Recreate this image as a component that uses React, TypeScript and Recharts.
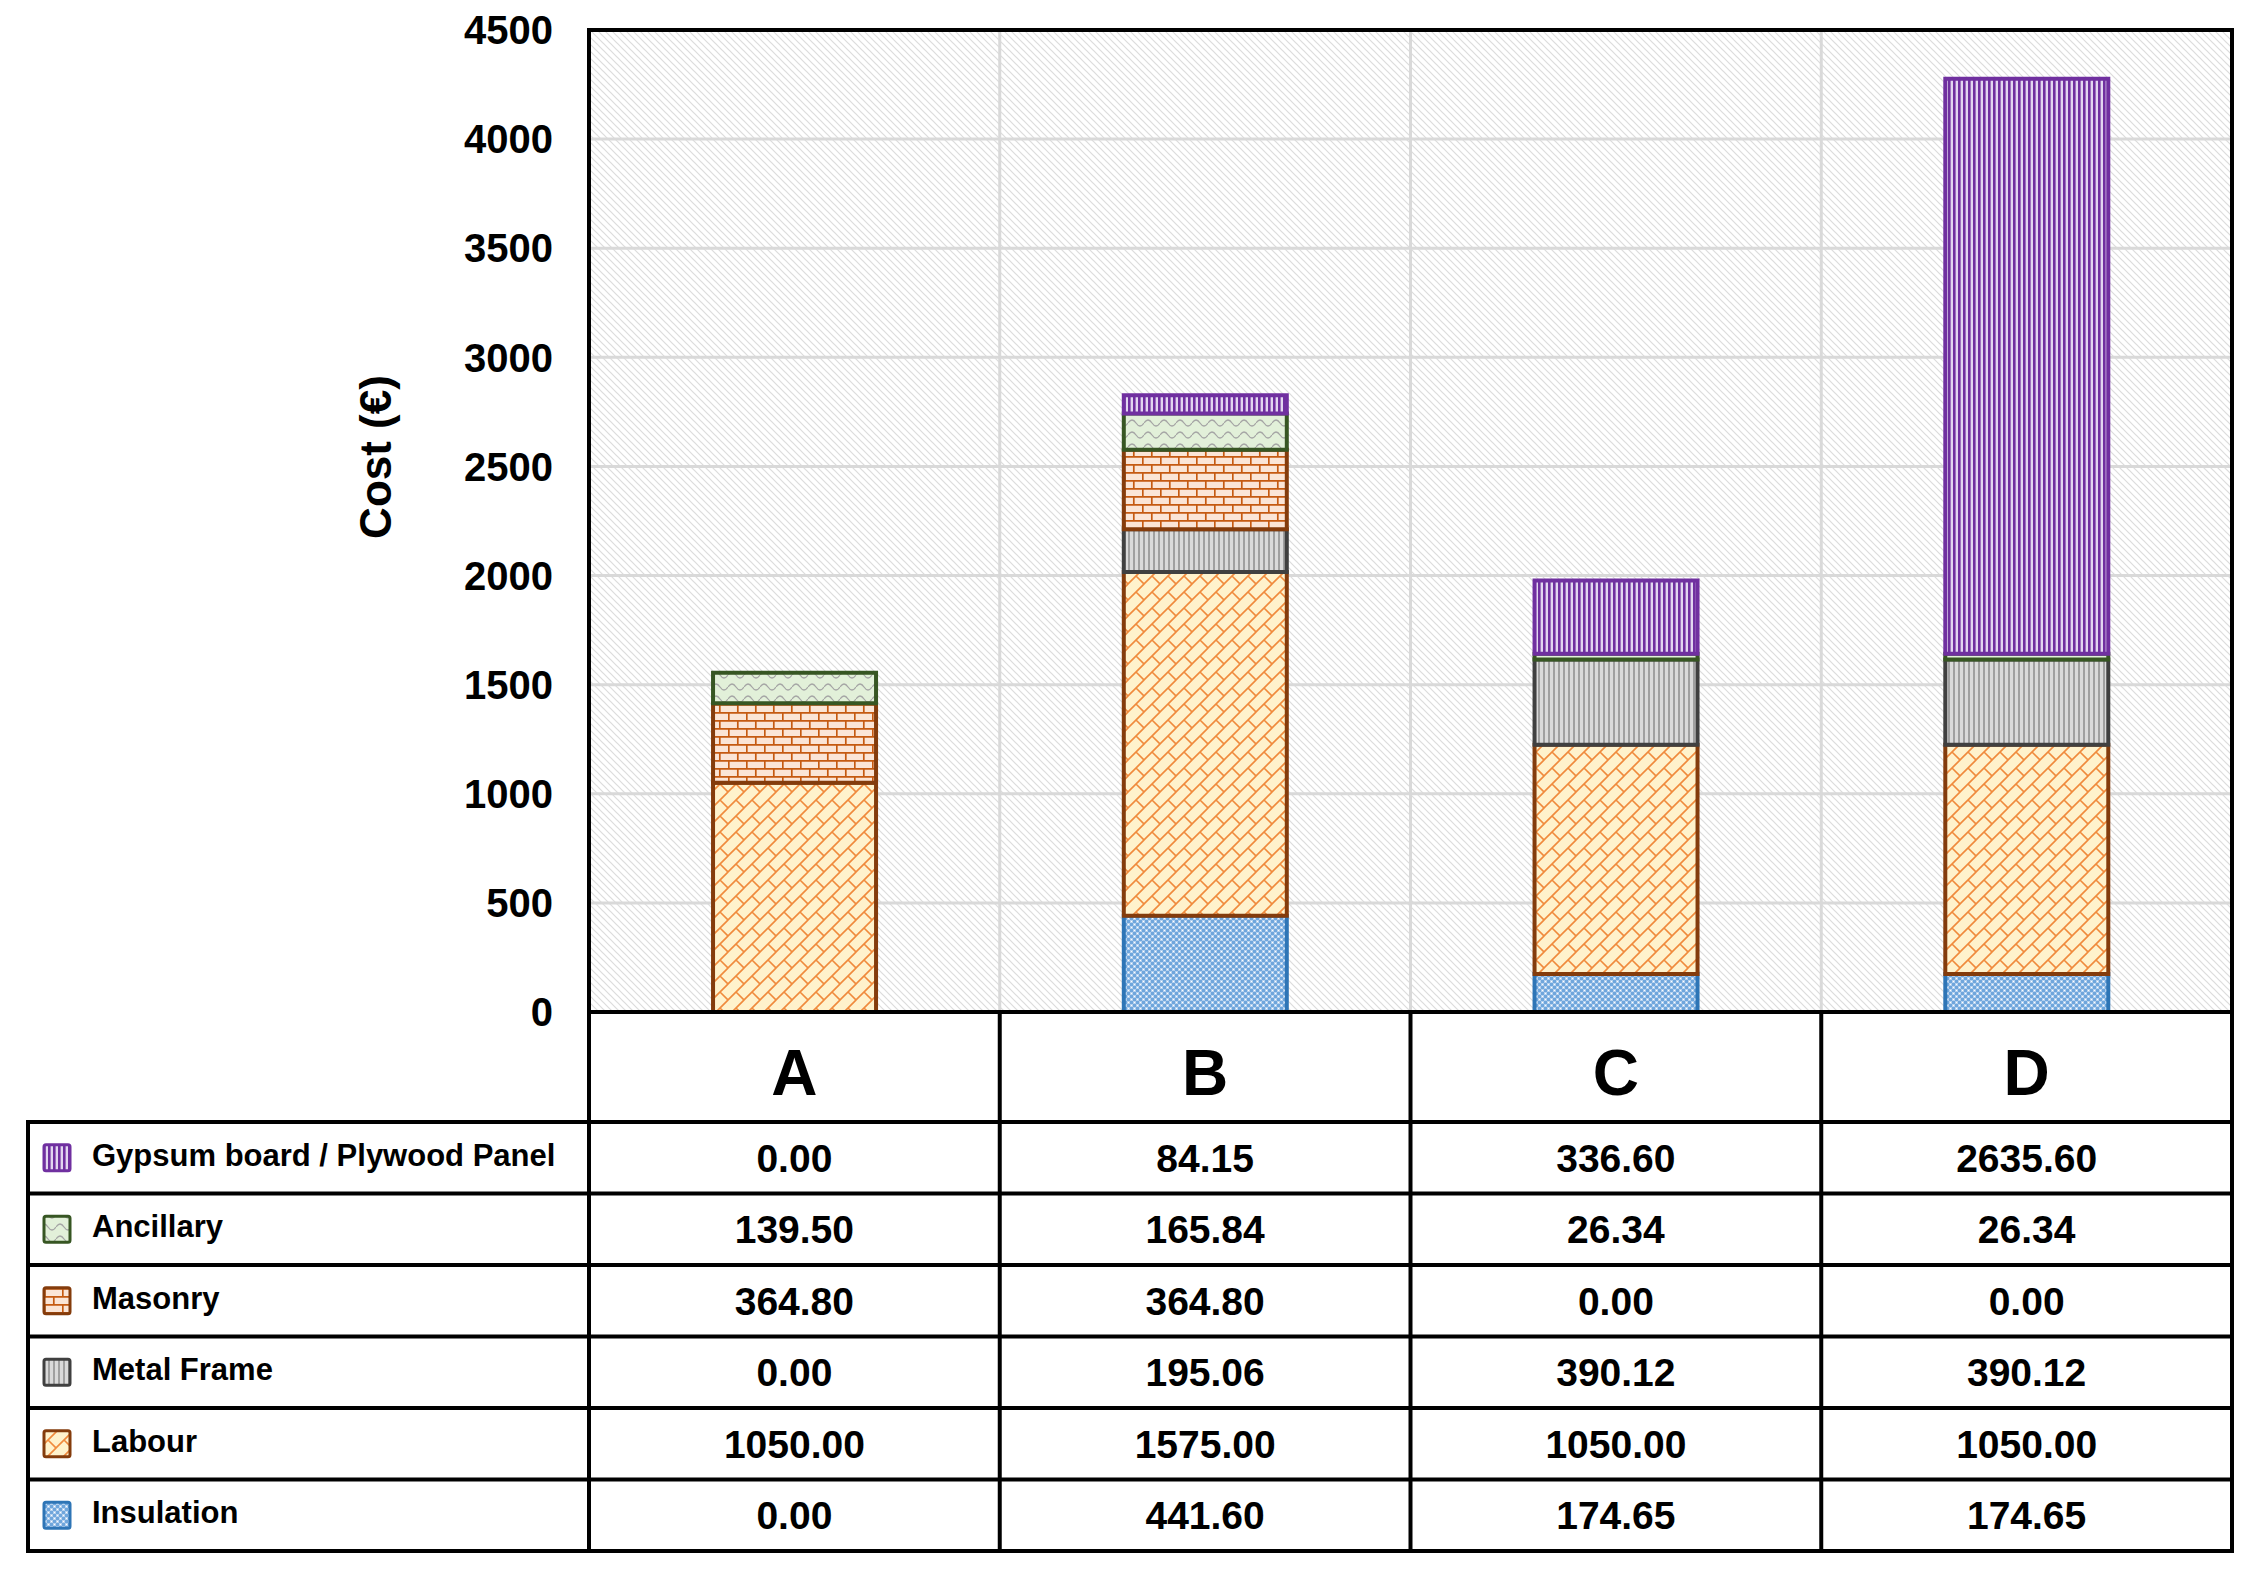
import React from 'react';
import { BarChart, Bar, XAxis, YAxis, CartesianGrid } from 'recharts';

// ---------- data ----------
const categories = ['A', 'B', 'C', 'D'];
const insulation = [0.0, 441.6, 174.65, 174.65];
const labour = [1050.0, 1575.0, 1050.0, 1050.0];
const metalFrame = [0.0, 195.06, 390.12, 390.12];
const masonry = [364.8, 364.8, 0.0, 0.0];
const ancillary = [139.5, 165.84, 26.34, 26.34];
const gypsum = [0.0, 84.15, 336.6, 2635.6];
const yTicks = [0, 500, 1000, 1500, 2000, 2500, 3000, 3500, 4000, 4500];

const seriesKeys = ['insulation', 'labour', 'metalFrame', 'masonry', 'ancillary', 'gypsum'];
const seriesLabels: Record<string, string> = {
  insulation: 'Insulation',
  labour: 'Labour',
  metalFrame: 'Metal Frame',
  masonry: 'Masonry',
  ancillary: 'Ancillary',
  gypsum: 'Gypsum board / Plywood Panel',
};
const seriesValues: Record<string, number[]> = {
  insulation, labour, metalFrame, masonry, ancillary, gypsum,
};
const tableOrder = ['gypsum', 'ancillary', 'masonry', 'metalFrame', 'labour', 'insulation'];

const chartData = categories.map((name, i) => {
  const row: Record<string, any> = { name };
  seriesKeys.forEach((k) => { row[k] = seriesValues[k][i]; });
  return row;
});

// ---------- styles ----------
const seriesStyle: Record<string, { fill: string; stroke: string }> = {
  insulation: { fill: 'url(#pInsul)', stroke: '#2E75B6' },
  labour: { fill: 'url(#pLabour)', stroke: '#843C0C' },
  metalFrame: { fill: 'url(#pMetal)', stroke: '#404040' },
  masonry: { fill: 'url(#pMason)', stroke: '#843C0C' },
  ancillary: { fill: 'url(#pAnc)', stroke: '#375623' },
  gypsum: { fill: 'url(#pGyp)', stroke: '#7030A0' },
};

const FONT = '"Liberation Sans", Arial, sans-serif';
const W = 2236;
const H = 1558;
const PLOT_L = 581;
const PLOT_R = 2224;
const PLOT_T = 22;
const PLOT_B = 1004;
const HEADER_H = 110;
const ROW_H = 71.5;
const TABLE_L = 20;
const LINE_W = 4;

const CategoryTick = (props: any) => {
  const { x, y, payload } = props;
  return (
    <text x={x} y={y + 83} textAnchor="middle" fontSize={64} fontWeight="bold" fontFamily={FONT} fill="#000">
      {payload.value}
    </text>
  );
};

const Patterns = () => (
  <svg width={0} height={0} style={{ position: 'absolute' }}>
    <defs>
      <pattern id="bgHatch" patternUnits="userSpaceOnUse" width="7" height="7">
        <rect width="7" height="7" fill="#ffffff" />
        <path d="M-1,-1 L8,8 M-1,6 L1,8 M6,-1 L8,1" stroke="#dcdcdc" strokeWidth="1.2" />
      </pattern>
      <pattern id="pInsul" patternUnits="userSpaceOnUse" width="6" height="6">
        <rect width="6" height="6" fill="#6FA6DC" />
        <rect x="0" y="0" width="3" height="3" fill="#B4D0EE" />
        <rect x="3" y="3" width="3" height="3" fill="#B4D0EE" />
        <rect x="1" y="1" width="1" height="1" fill="#ffffff" />
        <rect x="4" y="4" width="1" height="1" fill="#ffffff" />
      </pattern>
      <pattern id="pLabour" patternUnits="userSpaceOnUse" width="16" height="16">
        <rect width="16" height="16" fill="#FFF2CC" />
        <path d="M-2,18 L18,-2 M-2,2 L2,-2 M14,18 L18,14 M8,8 L16,16" stroke="#F08A3C" strokeWidth="1.6" fill="none" />
      </pattern>
      <pattern id="pMetal" patternUnits="userSpaceOnUse" width="5" height="5">
        <rect width="5" height="5" fill="#DADADA" />
        <rect x="0" y="0" width="2" height="5" fill="#A0A0A0" />
      </pattern>
      <pattern id="pGyp" patternUnits="userSpaceOnUse" width="5" height="5">
        <rect width="5" height="5" fill="#E2D6F0" />
        <rect x="0" y="0" width="2.6" height="5" fill="#7030A0" />
      </pattern>
      <pattern id="pMason" patternUnits="userSpaceOnUse" width="18" height="16">
        <rect width="18" height="16" fill="#FBE5D6" />
        <path d="M0,0.8 L18,0.8 M0,8.8 L18,8.8 M0.8,0 L0.8,8.8 M9.8,8.8 L9.8,16" stroke="#C55A11" strokeWidth="1.7" fill="none" />
      </pattern>
      <pattern id="pAnc" patternUnits="userSpaceOnUse" width="16" height="12">
        <rect width="16" height="12" fill="#E2F0D9" />
        <path d="M0,7 Q4,1 8,7 T16,7" stroke="#A5A5A5" strokeWidth="1.3" fill="none" />
      </pattern>
    </defs>
  </svg>
);

const TableOverlay = () => {
  const colW = (PLOT_R - PLOT_L) / categories.length;
  const headerBottom = PLOT_B + HEADER_H;
  const tableBottom = headerBottom + ROW_H * tableOrder.length;
  const vLines = categories.map((_, i) => PLOT_L + (i + 1) * colW);
  return (
    <svg width={W} height={H} style={{ position: 'absolute', left: 0, top: 0, pointerEvents: 'none' }}>
      {/* plot frame */}
      <rect x={PLOT_L} y={PLOT_T} width={PLOT_R - PLOT_L} height={PLOT_B - PLOT_T} fill="none" stroke="#000" strokeWidth={LINE_W} />
      {/* y axis title */}
      <g transform="translate(383,449) rotate(-90)">
        <text x={0} y={0} textAnchor="middle" fontSize={44} fontWeight="bold" fontFamily={FONT} fill="#000">Cost (€)</text>
      </g>
      {/* table vertical lines */}
      <line x1={PLOT_L} y1={PLOT_B} x2={PLOT_L} y2={tableBottom} stroke="#000" strokeWidth={LINE_W} />
      {vLines.map((x, i) => (
        <line key={'v' + i} x1={x} y1={PLOT_B} x2={x} y2={tableBottom} stroke="#000" strokeWidth={LINE_W} />
      ))}
      <line x1={TABLE_L} y1={headerBottom} x2={TABLE_L} y2={tableBottom} stroke="#000" strokeWidth={LINE_W} />
      {/* table horizontal lines */}
      {tableOrder.map((_, r) => (
        <line key={'h' + r} x1={TABLE_L - 2} y1={headerBottom + r * ROW_H} x2={PLOT_R + 2} y2={headerBottom + r * ROW_H} stroke="#000" strokeWidth={LINE_W} />
      ))}
      <line x1={TABLE_L - 2} y1={tableBottom} x2={PLOT_R + 2} y2={tableBottom} stroke="#000" strokeWidth={LINE_W} />
      {/* rows */}
      {tableOrder.map((k, r) => {
        const cy = headerBottom + r * ROW_H + ROW_H / 2;
        const st = seriesStyle[k];
        return (
          <g key={k}>
            <rect x={36} y={cy - 13} width={26} height={26} rx={2} fill={st.fill} stroke={st.stroke} strokeWidth={3} />
            <text x={84} y={cy + 0.36 * 31 - 3} fontSize={31} fontWeight="bold" fontFamily={FONT} fill="#000">
              {seriesLabels[k]}
            </text>
            {seriesValues[k].map((v, i) => (
              <text key={i} x={PLOT_L + (i + 0.5) * colW} y={cy + 0.36 * 39} textAnchor="middle" fontSize={39} fontWeight="bold" fontFamily={FONT} fill="#000">
                {v.toFixed(2)}
              </text>
            ))}
          </g>
        );
      })}
    </svg>
  );
};

export default function App() {
  return (
    <div style={{ position: 'relative', width: W, height: H, background: '#fff' }}>
      <Patterns />
      <BarChart
        width={W}
        height={H}
        data={chartData}
        margin={{ top: PLOT_T, right: W - PLOT_R, left: 0, bottom: H - PLOT_B - HEADER_H }}
        barCategoryGap="30.2%"
      >
        <CartesianGrid
          stroke="#D9D9D9"
          strokeWidth={3}
          fill="url(#bgHatch)"
          fillOpacity={1}
          verticalCoordinatesGenerator={({ offset }: any) =>
            categories.slice(1).map((_, i) => offset.left + ((i + 1) * offset.width) / categories.length)
          }
        />
        <XAxis
          dataKey="name"
          height={HEADER_H}
          tickLine={false}
          tickSize={0}
          tickMargin={0}
          axisLine={{ stroke: '#000', strokeWidth: LINE_W }}
          tick={<CategoryTick />}
          interval={0}
        />
        <YAxis
          width={PLOT_L}
          domain={[0, 4500]}
          ticks={yTicks}
          interval={0}
          tickLine={false}
          tickSize={0}
          tickMargin={36}
          axisLine={{ stroke: '#000', strokeWidth: LINE_W }}
          tick={{ fontSize: 40, fontWeight: 'bold', fill: '#000', fontFamily: FONT }}
        />
        {seriesKeys.map((k) => (
          <Bar
            key={k}
            dataKey={k}
            name={seriesLabels[k]}
            stackId="cost"
            fill={seriesStyle[k].fill}
            stroke={seriesStyle[k].stroke}
            strokeWidth={4}
            isAnimationActive={false}
          />
        ))}
      </BarChart>
      <TableOverlay />
    </div>
  );
}
